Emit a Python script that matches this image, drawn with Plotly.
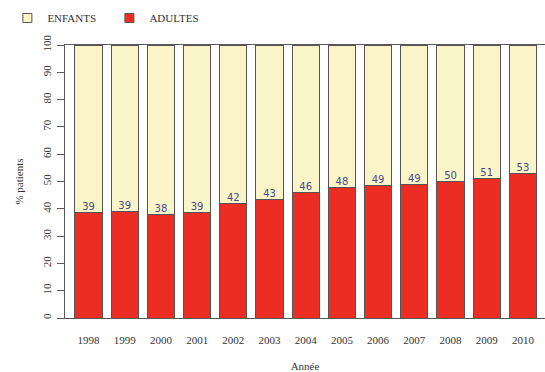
import plotly.graph_objects as go

annees = [1998, 1999, 2000, 2001, 2002, 2003, 2004, 2005, 2006, 2007, 2008, 2009, 2010]
adultes = [38.6, 39.1, 37.9, 38.7, 42.1, 43.3, 45.8, 47.8, 48.6, 49.0, 50.1, 51.0, 52.8]
enfants = [round(100 - a, 1) for a in adultes]
etiquettes = [str(int(round(a))) for a in adultes]

serif = "Liberation Serif, Times New Roman, serif"
gris = "#5a5a5a"
rouge = "#EB2D23"
jaune = "#FAF5C8"

fig = go.Figure()
fig.add_trace(go.Bar(
    x=annees, y=adultes, name="ADULTES", showlegend=False,
    marker=dict(color=rouge, line=dict(color="#555555", width=1)),
))
fig.add_trace(go.Bar(
    x=annees, y=enfants, name="ENFANTS", showlegend=False,
    marker=dict(color=jaune, line=dict(color="#555555", width=1)),
))
fig.add_trace(go.Scatter(
    x=annees, y=adultes, text=etiquettes, mode="text",
    textposition="top center", showlegend=False, hoverinfo="skip",
    textfont=dict(family="DejaVu Sans, sans-serif", size=10, color="#4a4a85"),
))
# legend entries (small squares like the R legend)
fig.add_trace(go.Scatter(
    x=[None], y=[None], mode="markers", name="ENFANTS",
    marker=dict(symbol="square", size=9, color=jaune, line=dict(color="#555555", width=1)),
))
fig.add_trace(go.Scatter(
    x=[None], y=[None], mode="markers", name="ADULTES",
    marker=dict(symbol="square", size=9, color=rouge, line=dict(color="#555555", width=1)),
))

fig.update_layout(
    width=545, height=372,
    margin=dict(l=65, r=0, t=45, b=54, autoexpand=False),
    barmode="stack", bargap=0.25,
    plot_bgcolor="white", paper_bgcolor="white",
    font=dict(family=serif, size=11, color="#333333"),
    legend=dict(
        orientation="h", x=-0.12, y=1.099, xanchor="left", yanchor="middle",
        traceorder="normal",
        font=dict(family=serif, size=11, color="#333333"),
        itemwidth=30, entrywidth=57, bgcolor="rgba(0,0,0,0)",
    ),
)
fig.update_xaxes(
    range=[1997.35, 2010.61], tickvals=annees, ticktext=[str(a) for a in annees],
    showgrid=False, zeroline=False, showline=True, mirror=True,
    linecolor=gris, linewidth=1, ticks="", ticklabelstandoff=12,
    automargin=False,
    title=dict(text="Année", standoff=26, font=dict(family=serif, size=11)),
    tickfont=dict(family=serif, size=11, color="#333333"),
)
fig.update_yaxes(
    range=[0, 100], tickvals=list(range(0, 101, 10)),
    showgrid=False, zeroline=False, showline=True,
    linecolor=gris, linewidth=1, ticks="outside", ticklen=7, tickcolor=gris,
    tickangle=-90, ticklabelstandoff=2, automargin=False,
    title=dict(text="% patients", standoff=14, font=dict(family=serif, size=11)),
    tickfont=dict(family=serif, size=11, color="#333333"),
)

fig.write_html("out.html", config={"displayModeBar": False},
               post_script="document.body.style.margin='0';")
